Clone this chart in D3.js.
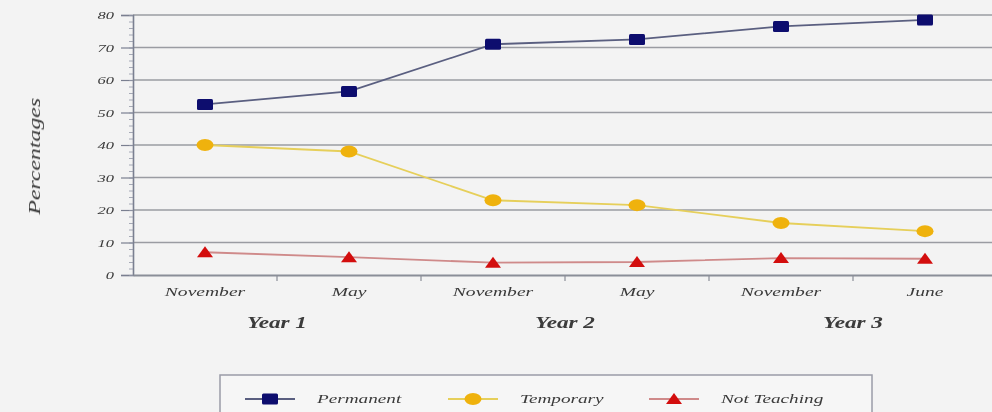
<!DOCTYPE html>
<html>
<head>
<meta charset="utf-8">
<script src="https://cdn.jsdelivr.net/npm/d3@7"></script>
<style>
  html, body { margin: 0; padding: 0; background: #f3f3f3; }
  svg { display: block; }
  text { font-family: "Liberation Serif", "DejaVu Serif", serif; font-style: italic; fill: #3a3a3a; }
</style>
</head>
<body>
<svg id="chart" width="992" height="412"></svg>
<script>
// Survey periods along the x axis
const periods = ["November", "May", "November", "May", "November", "June"];
const years = ["Year 1", "Year 2", "Year 3"];

// Share of respondents (%) by employment status
const permanent   = [52.5, 56.5, 71, 72.5, 76.5, 78.5];
const temporary   = [40, 38, 23, 21.5, 16, 13.5];
const notTeaching = [7, 5.5, 3.8, 4, 5.2, 5];

const yTicks = [0, 10, 20, 30, 40, 50, 60, 70, 80];

const series = [
  { name: "Permanent",    values: permanent,   line: "#5a5f80", fill: "#0b0b6e", shape: "rect" },
  { name: "Temporary",    values: temporary,   line: "#e6cf5a", fill: "#efb20c", shape: "ellipse" },
  { name: "Not Teaching", values: notTeaching, line: "#cf8a8a", fill: "#d30f0f", shape: "triangle" }
];

const svg = d3.select("#chart");
const W = 992, H = 412;
const m = { left: 133, right: -5, top: 15, bottom: 137 };

// the typeface is set wide: stretch each label along its baseline
function widen(sel, k) {
  sel.each(function () {
    const len = this.getComputedTextLength();
    d3.select(this).attr("textLength", len * k).attr("lengthAdjust", "spacingAndGlyphs");
  });
}

const defs = svg.append("defs");
defs.append("filter").attr("id", "soft")
  .append("feGaussianBlur").attr("stdDeviation", 0.45);

svg.append("rect").attr("width", W).attr("height", H).attr("fill", "#f3f3f3");

const g = svg.append("g").attr("filter", "url(#soft)");

const x = d3.scaleBand().domain(d3.range(periods.length))
  .range([m.left, W - m.right]).paddingInner(0).paddingOuter(0);
const y = d3.scaleLinear().domain([0, 80]).range([H - m.bottom, m.top]);

// horizontal gridlines
g.append("g").selectAll("line").data(yTicks.filter(d => d > 0)).join("line")
  .attr("x1", m.left).attr("x2", W)
  .attr("y1", d => y(d)).attr("y2", d => y(d))
  .attr("stroke", "#9a9ca2").attr("stroke-width", 1.5);

// y axis with minor ticks
const yAxis = g.append("g").attr("transform", `translate(${m.left},0)`)
  .call(d3.axisLeft(y).tickValues(yTicks).tickSize(12).tickPadding(7));
yAxis.select(".domain").attr("stroke", "#7a7f90").attr("stroke-width", 1.6);
yAxis.selectAll(".tick line").attr("stroke", "#7a7f90").attr("stroke-width", 1.2);
yAxis.selectAll(".tick text").attr("font-size", 11).attr("fill", "#444")
  .style("font-family", "'Liberation Serif', serif").style("font-style", "italic")
  .call(widen, 1.5);
g.append("g").attr("transform", `translate(${m.left},0)`)
  .call(d3.axisLeft(y).tickValues(d3.range(0, 81, 2)).tickSize(4).tickFormat(""))
  .call(s => s.select(".domain").remove())
  .selectAll(".tick line").attr("stroke", "#9096a6").attr("stroke-width", 0.8);

// x axis
const xAxis = g.append("g").attr("transform", `translate(0,${y(0)})`)
  .call(d3.axisBottom(x).tickSize(0).tickFormat(i => periods[i]).tickPadding(13));
xAxis.select(".domain").attr("stroke", "#8a8e98").attr("stroke-width", 1.8);
xAxis.selectAll(".tick text").attr("font-size", 11.5).attr("fill", "#444")
  .style("font-family", "'Liberation Serif', serif").style("font-style", "italic")
  .call(widen, 1.7);
// category boundary ticks
g.append("g").selectAll("line").data(d3.range(1, periods.length)).join("line")
  .attr("x1", i => x(i)).attr("x2", i => x(i))
  .attr("y1", y(0)).attr("y2", y(0) + 6)
  .attr("stroke", "#8a8e98").attr("stroke-width", 1.2);

// year labels, centred under each pair of periods
g.append("g").selectAll("text").data(years).join("text")
  .attr("x", (d, i) => x(i * 2 + 1))
  .attr("y", 328)
  .attr("text-anchor", "middle")
  .attr("font-size", 16).attr("font-weight", "bold").attr("fill", "#2e2e2e")
  .text(d => d)
  .call(widen, 1.45);

// y axis title
g.append("text")
  .attr("transform", `translate(40,${y(36.5)}) rotate(-90)`)
  .attr("text-anchor", "middle")
  .attr("font-size", 17).attr("fill", "#333")
  .text("Percentages")
  .call(widen, 1.4);

// marker drawing helper
function marker(sel, s, cx, cy) {
  if (s.shape === "rect") {
    sel.append("rect").attr("x", cx - 8).attr("y", cy - 5.5)
      .attr("width", 16).attr("height", 11).attr("rx", 1.5).attr("fill", s.fill);
  } else if (s.shape === "ellipse") {
    sel.append("ellipse").attr("cx", cx).attr("cy", cy)
      .attr("rx", 8.5).attr("ry", 6).attr("fill", s.fill);
  } else {
    sel.append("path")
      .attr("d", `M${cx},${cy - 6}L${cx + 8},${cy + 5}L${cx - 8},${cy + 5}Z`)
      .attr("fill", s.fill);
  }
}

const line = d3.line().x((d, i) => x(i) + x.bandwidth() / 2).y(d => y(d));

series.forEach(s => {
  const gs = g.append("g");
  gs.append("path").datum(s.values)
    .attr("d", line).attr("fill", "none")
    .attr("stroke", s.line).attr("stroke-width", 1.8);
  s.values.forEach((v, i) => marker(gs, s, x(i) + x.bandwidth() / 2, y(v)));
});

// legend
const lg = g.append("g");
lg.append("rect").attr("x", 220).attr("y", 375).attr("width", 652).attr("height", 60)
  .attr("fill", "#f6f6f6").attr("stroke", "#9a9ca8").attr("stroke-width", 1.5);
const legendX = [245, 448, 649];
series.forEach((s, i) => {
  const lx = legendX[i], ly = 399;
  lg.append("line").attr("x1", lx).attr("x2", lx + 50).attr("y1", ly).attr("y2", ly)
    .attr("stroke", s.line).attr("stroke-width", 2);
  marker(lg, s, lx + 25, ly);
  lg.append("text").attr("x", lx + 72).attr("y", ly + 4)
    .attr("font-size", 12).attr("fill", "#444").text(s.name)
    .call(widen, 1.6);
});
</script>
</body>
</html>
